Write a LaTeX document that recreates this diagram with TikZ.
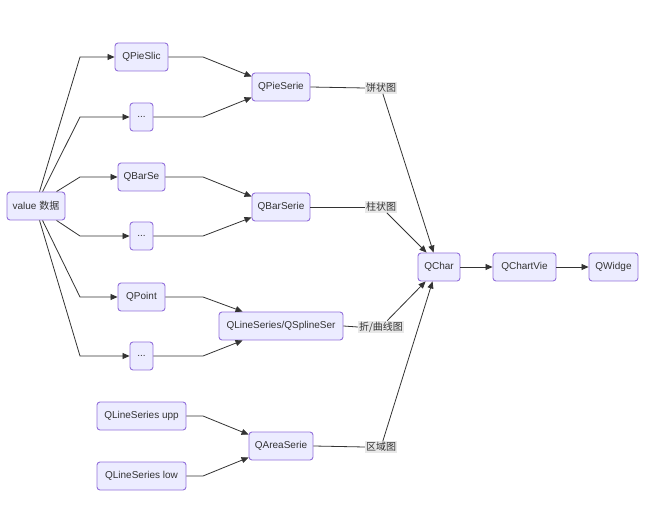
\documentclass[tikz,border=0pt]{standalone}
\usepackage{fontspec}
\setmainfont{Liberation Sans}
\newfontfamily\cjk{Noto Sans CJK SC}
\usetikzlibrary{arrows.meta}
\definecolor{nfill}{HTML}{ECECFF}
\definecolor{nline}{HTML}{9370DB}
\definecolor{ink}{HTML}{333333}
\definecolor{lblbg}{HTML}{E8E8E8}
\begin{document}
\begin{tikzpicture}[x=1pt,y=-1pt,
  box/.style={draw=nline,fill=nfill,line width=0.9pt,rounded corners=3pt,
    minimum height=28pt,inner sep=0pt,text=ink,font=\fontsize{10}{12}\selectfont},
  lbl/.style={fill=lblbg,inner sep=1pt,text=ink,font=\cjk\fontsize{10}{12}\selectfont},
  arr/.style={draw=ink,line width=0.8pt,-{Triangle[length=7pt,width=6pt]}},
  ln/.style={draw=ink,line width=0.8pt}]
\useasboundingbox (0,0) rectangle (653,510);
% nodes
\node[box,minimum width=58pt] (val) at (36,206) {value {\cjk 数据}};
\node[box,minimum width=53pt] (ps) at (141.5,57) {QPieSlic};
\node[box,minimum width=23pt] (d1) at (141.5,117) {...};
\node[box,minimum width=47pt] (bs) at (141.5,177) {QBarSe};
\node[box,minimum width=23pt] (d2) at (141.5,236) {...};
\node[box,minimum width=47pt] (pt) at (141.5,297) {QPoint};
\node[box,minimum width=23pt] (d3) at (141.5,356) {...};
\node[box,minimum width=89pt] (up) at (141.5,416) {QLineSeries upp};
\node[box,minimum width=89pt] (lo) at (141.5,476) {QLineSeries low};
\node[box,minimum width=58pt] (pse) at (281,87) {QPieSerie};
\node[box,minimum width=58pt] (bse) at (281,207) {QBarSerie};
\node[box,minimum width=124pt] (lse) at (281,326) {QLineSeries/QSplineSer};
\node[box,minimum width=64pt] (ase) at (281,446) {QAreaSerie};
\node[box,minimum width=42pt] (chart) at (439,267) {QChar};
\node[box,minimum width=63pt] (view) at (524.5,267) {QChartVie};
\node[box,minimum width=49pt] (widg) at (613.5,267) {QWidge};
\node[lbl] (l1) at (381,88) {饼状图};
\node[lbl] (l2) at (381,207) {柱状图};
\node[lbl] (l3) at (381,327) {折/曲线图};
\node[lbl] (l4) at (381,447) {区域图};
% value fan-out
\draw[arr] ([xshift=33pt]val.north west) -- (80,57) -- (ps.west);
\draw[arr] ([xshift=36pt]val.north west) -- (80,117) -- (d1.west);
\draw[arr] ([xshift=50pt]val.north west) -- (80,177) -- (bs.west);
\draw[arr] ([xshift=50pt]val.south west) -- (80,236) -- (d2.west);
\draw[arr] ([xshift=36pt]val.south west) -- (80,297) -- (pt.west);
\draw[arr] ([xshift=33pt]val.south west) -- (80,356) -- (d3.west);
% to series
\draw[arr] (ps.east) -- (203,57) -- ([yshift=-4pt]pse.north west);
\draw[arr] (d1.east) -- (203,117) -- ([yshift=4pt]pse.south west);
\draw[arr] (bs.east) -- (203,177) -- ([yshift=-4pt]bse.north west);
\draw[arr] (d2.east) -- (203,236) -- ([yshift=4pt]bse.south west);
\draw[arr] (pt.east) -- (203,297) -- ([xshift=24pt]lse.north west);
\draw[arr] (d3.east) -- (203,356) -- ([xshift=24pt]lse.south west);
\draw[arr] (up.east) -- (203,416) -- ([yshift=-3pt]ase.north west);
\draw[arr] (lo.east) -- (203,476) -- ([yshift=3pt]ase.south west);
% series to labels
\draw[ln] (pse.east) -- (l1.west);
\draw[ln] (bse.east) -- (l2.west);
\draw[ln] (lse.east) -- (l3.west);
\draw[ln] (ase.east) -- (l4.west);
% labels to chart
\draw[arr] (l1) -- ([xshift=16pt]chart.north west);
\draw[arr] (l2) -- ([xshift=9pt]chart.north west);
\draw[arr] (l3) -- ([xshift=8pt]chart.south west);
\draw[arr] (l4) -- ([xshift=15pt]chart.south west);
% chain
\draw[arr] (chart.east) -- (view.west);
\draw[arr] (view.east) -- (widg.west);
\end{tikzpicture}
\end{document}
